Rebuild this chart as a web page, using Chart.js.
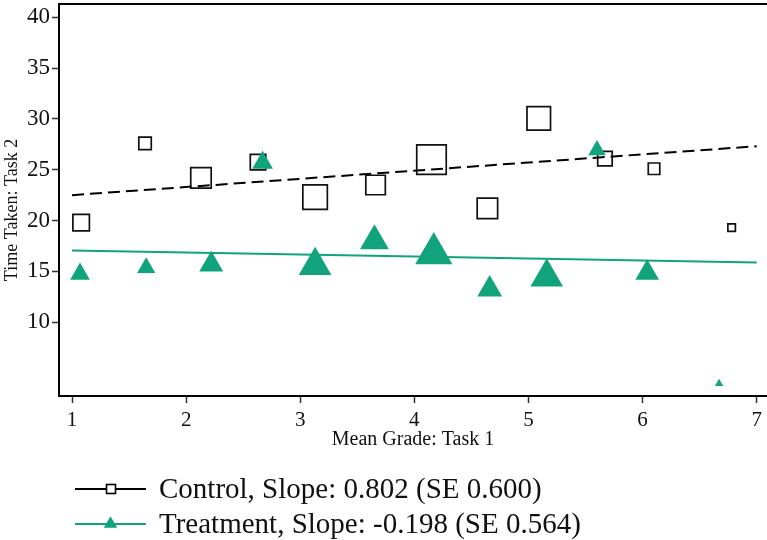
<!DOCTYPE html>
<html>
<head>
<meta charset="utf-8">
<script src="https://cdn.jsdelivr.net/npm/chart.js@4/dist/chart.umd.min.js"></script>
<style>
  html, body { margin: 0; padding: 0; background: #fff; }
  #wrap { width: 767px; height: 540px; position: relative; }
</style>
</head>
<body>
<div id="wrap"><canvas id="chart"></canvas></div>
<script>
// Control group (hollow squares), marker size ~ weight
const controlX = [1.08, 1.64, 2.13, 2.63, 3.13, 3.66, 4.15, 4.64, 5.09, 5.67, 6.10, 6.78];
const controlY = [19.8, 27.6, 24.2, 25.75, 22.3, 23.5, 26.0, 21.2, 30.05, 26.1, 25.1, 19.3];
const controlW = [9, 5.4, 13.4, 8, 18.8, 12.25, 26.7, 13.4, 17.4, 7.1, 4.7, 2.25];

// Treatment group (filled triangles)
const treatX = [1.07, 1.65, 2.22, 2.67, 3.13, 3.65, 4.17, 4.66, 5.16, 5.60, 6.04, 6.67];
const treatY = [14.75, 15.36, 15.68, 25.7, 15.57, 18.0, 16.77, 13.24, 14.44, 26.93, 14.85, 3.96];
const treatW = [7.2, 6.2, 10.7, 8, 19.8, 15.5, 25.7, 11.4, 19.8, 5.6, 10.4, 1.3];

// fitted lines: [control, treatment]
const groupNames = ['Control', 'Treatment'];
const fitIntercept = [21.7, 17.26];
const fitSlope = [0.802, -0.198];
const fitSE = [0.600, 0.564];
const fitRange = [1, 7];

const xTicks = [1, 2, 3, 4, 5, 6, 7];
const yTicks = [10, 15, 20, 25, 30, 35, 40];
const xTitle = 'Mean Grade: Task 1';
const yTitle = 'Time Taken: Task 2';

const GREEN = '#11a37c';
const FONT = "'Liberation Serif', 'Times New Roman', serif";

function pts(xs, ys) {
    return xs.map((x, i) => ({ x: x, y: ys[i] }));
}
function fitLine(g) {
    return fitRange.map(x => ({ x: x, y: fitIntercept[g] + fitSlope[g] * x }));
}
function legendText(g) {
    return groupNames[g] + ', Slope: ' + fitSlope[g].toFixed(3) + ' (SE ' + fitSE[g].toFixed(3) + ')';
}

// squares: side grows with sqrt(weight)
const squareRadius = controlW.map(w => (6 * Math.sqrt(w) - 1.5) / Math.SQRT2);
const triRadius = treatW.map(w => 4.24 * Math.sqrt(w));

// top border, y title, custom legend (line with marker in the middle)
const framePlugin = {
    id: 'frame',
    afterDraw(chart) {
        const ctx = chart.ctx;
        const a = chart.chartArea;
        ctx.save();
        ctx.strokeStyle = '#000';
        ctx.lineWidth = 2;
        ctx.beginPath();
        ctx.moveTo(a.left, a.top);
        ctx.lineTo(a.right, a.top);
        ctx.stroke();

        // y axis title sits a little below the middle of the plot
        ctx.save();
        ctx.translate(12, 210);
        ctx.rotate(-Math.PI / 2);
        ctx.fillStyle = '#111';
        ctx.font = '18px ' + FONT;
        ctx.textAlign = 'center';
        ctx.textBaseline = 'middle';
        ctx.fillText(yTitle, 0, 0);
        ctx.restore();

        const rows = [489, 524];
        const colors = ['#000', GREEN];
        rows.forEach((y, g) => {
            ctx.strokeStyle = colors[g];
            ctx.lineWidth = 2;
            ctx.beginPath();
            ctx.moveTo(75, y);
            ctx.lineTo(146, y);
            ctx.stroke();
            if (g === 0) {
                ctx.fillStyle = '#fff';
                ctx.fillRect(106.5, y - 4.5, 9, 9);
                ctx.lineWidth = 1.6;
                ctx.strokeRect(106.5, y - 4.5, 9, 9);
            } else {
                const r = 7.7;
                ctx.fillStyle = GREEN;
                ctx.beginPath();
                ctx.moveTo(110.5, y - r);
                ctx.lineTo(110.5 + r * 0.866, y + r / 2);
                ctx.lineTo(110.5 - r * 0.866, y + r / 2);
                ctx.closePath();
                ctx.fill();
            }
            ctx.fillStyle = '#111';
            ctx.font = '29px ' + FONT;
            ctx.textBaseline = 'middle';
            ctx.textAlign = 'left';
            ctx.fillText(legendText(g), 159, y + 1);
        });
        ctx.restore();
    }
};

const ctx = document.getElementById('chart').getContext('2d');
const chart = new Chart(ctx, {
    type: 'scatter',
    data: {
        datasets: [
            {
                label: legendText(0) + ' fit',
                data: fitLine(0),
                showLine: true,
                borderColor: '#000',
                borderWidth: 2,
                borderDash: [12, 6],
                pointRadius: 0,
                order: 3
            },
            {
                label: legendText(1) + ' fit',
                data: fitLine(1),
                showLine: true,
                borderColor: GREEN,
                borderWidth: 2,
                pointRadius: 0,
                order: 3
            },
            {
                label: legendText(0),
                data: pts(controlX, controlY),
                pointStyle: 'rect',
                pointRadius: squareRadius,
                pointBackgroundColor: 'rgba(255,255,255,0)',
                pointBorderColor: '#111',
                pointBorderWidth: 1.7,
                order: 2
            },
            {
                label: legendText(1),
                data: pts(treatX, treatY),
                pointStyle: 'triangle',
                pointRadius: triRadius,
                pointBackgroundColor: GREEN,
                pointBorderWidth: 0,
                order: 1
            }
        ]
    },
    options: {
        responsive: true,
        maintainAspectRatio: false,
        animation: false,
        layout: { autoPadding: false, padding: { top: 4, right: 0, left: 0, bottom: 89 } },
        plugins: {
            legend: { display: false },
            tooltip: { enabled: false }
        },
        scales: {
            x: {
                type: 'linear',
                min: 0.886,
                max: 7.09,
                afterFit: s => { s.height = 55; s.paddingLeft = 0; s.paddingRight = 0; },
                afterBuildTicks: s => { s.ticks = xTicks.map(v => ({ value: v })); },
                grid: { drawOnChartArea: false, tickLength: 7, tickWidth: 1.5, tickColor: '#333' },
                border: { color: '#000', width: 2 },
                ticks: { color: '#111', padding: 5, font: { family: FONT, size: 21 } },
                title: {
                    display: true,
                    text: xTitle,
                    color: '#111',
                    padding: { top: 0, bottom: -1 },
                    font: { family: FONT, size: 20 }
                }
            },
            y: {
                type: 'linear',
                min: 2.75,
                max: 41.3,
                afterFit: s => { s.width = 59; s.paddingTop = 0; s.paddingBottom = 0; },
                afterBuildTicks: s => { s.ticks = yTicks.map(v => ({ value: v })); },
                grid: { drawOnChartArea: false, tickLength: 7, tickWidth: 1.5, tickColor: '#333' },
                border: { color: '#000', width: 2 },
                ticks: { color: '#111', padding: 2, font: { family: FONT, size: 23 } },
                title: { display: false }
            }
        }
    },
    plugins: [framePlugin]
});
</script>
</body>
</html>
